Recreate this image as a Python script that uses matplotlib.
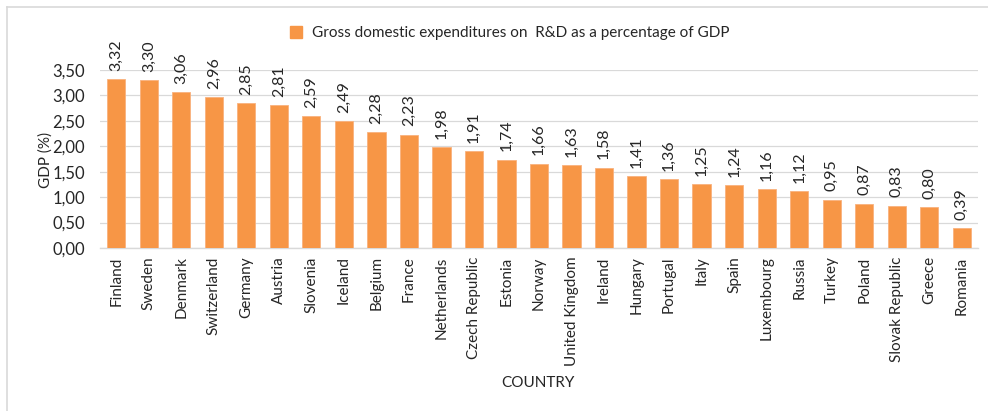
import matplotlib
matplotlib.use("Agg")
import matplotlib.pyplot as plt
from matplotlib.lines import Line2D
from matplotlib.ticker import FuncFormatter

countries = ["Finland", "Sweden", "Denmark", "Switzerland", "Germany", "Austria",
             "Slovenia", "Iceland", "Belgium", "France", "Netherlands", "Czech Republic",
             "Estonia", "Norway", "United Kingdom", "Ireland", "Hungary", "Portugal",
             "Italy", "Spain", "Luxembourg", "Russia", "Turkey", "Poland",
             "Slovak Republic", "Greece", "Romania"]
gerd = [3.32, 3.30, 3.06, 2.96, 2.85, 2.81, 2.59, 2.49, 2.28, 2.23, 1.98, 1.91,
        1.74, 1.66, 1.63, 1.58, 1.41, 1.36, 1.25, 1.24, 1.16, 1.12, 0.95, 0.87,
        0.83, 0.80, 0.39]
yticks = [0.0, 0.5, 1.0, 1.5, 2.0, 2.5, 3.0, 3.5]

ORANGE = "#F79646"
TXT = "#262626"
FS = 11        # words
FS_NUM = 11.5  # numbers
plt.rcParams["font.family"] = ["Lato", "DejaVu Sans"]


def comma(v, _=None):
    return f"{v:.2f}".replace(".", ",")


fig = plt.figure(figsize=(9.88, 4.11), dpi=100)
ax = fig.add_axes([100 / 988, 1 - 248 / 411, 878 / 988, 178 / 411])

x = range(len(countries))
bars = ax.bar(x, gerd, width=0.56, color=ORANGE, edgecolor="#F9B27E", linewidth=0.6, zorder=3)
for b, v in zip(bars, gerd):
    ax.annotate(comma(v), (b.get_x() + b.get_width() / 2, v), xytext=(0, 6),
                textcoords="offset points", rotation=90, ha="center", va="bottom",
                fontsize=FS_NUM, color=TXT, annotation_clip=False)

ax.set_xlim(-0.5, len(countries) - 0.5)
ax.set_ylim(0, 3.5)
ax.set_yticks(yticks)
ax.yaxis.set_major_formatter(FuncFormatter(comma))
ax.set_xticks(list(x))
ax.set_xticklabels(countries, rotation=90, fontsize=FS, color=TXT)
ax.tick_params(axis="y", labelsize=FS_NUM + 0.5, labelcolor=TXT, length=0, pad=11)
ax.tick_params(axis="x", length=0, pad=6)
ax.grid(axis="y", color="#D9D9D9", linewidth=0.9, zorder=0)
for s in ["top", "right", "left"]:
    ax.spines[s].set_visible(False)
ax.spines["bottom"].set_color("#D9D9D9")
ax.spines["bottom"].set_linewidth(1.0)

fig.text(46 / 988, 1 - 160 / 411, "GDP (%)", rotation=90, ha="center", va="center",
         fontsize=FS, color=TXT)
fig.text(538 / 988, 1 - 383 / 411, "COUNTRY", ha="center", va="center",
         fontsize=FS, color=TXT)

handle = Line2D([], [], marker="s", linestyle="none", markersize=8,
                markerfacecolor=ORANGE, markeredgecolor=ORANGE)
fig.legend([handle], ["Gross domestic expenditures on  R&D as a percentage of GDP"],
           loc="center", bbox_to_anchor=(505 / 988, 1 - 33 / 411), frameon=False,
           fontsize=FS, handletextpad=0.05, labelcolor=TXT)

# chart frame edges on the left and top
fig.add_artist(Line2D([7 / 988, 7 / 988], [0, 1 - 7 / 411], transform=fig.transFigure,
                      color="#D9D9D9", linewidth=1.2))
fig.add_artist(Line2D([7 / 988, 1], [1 - 7 / 411, 1 - 7 / 411], transform=fig.transFigure,
                      color="#D9D9D9", linewidth=1.2))

fig.savefig("out.png", dpi=100, facecolor="white")
